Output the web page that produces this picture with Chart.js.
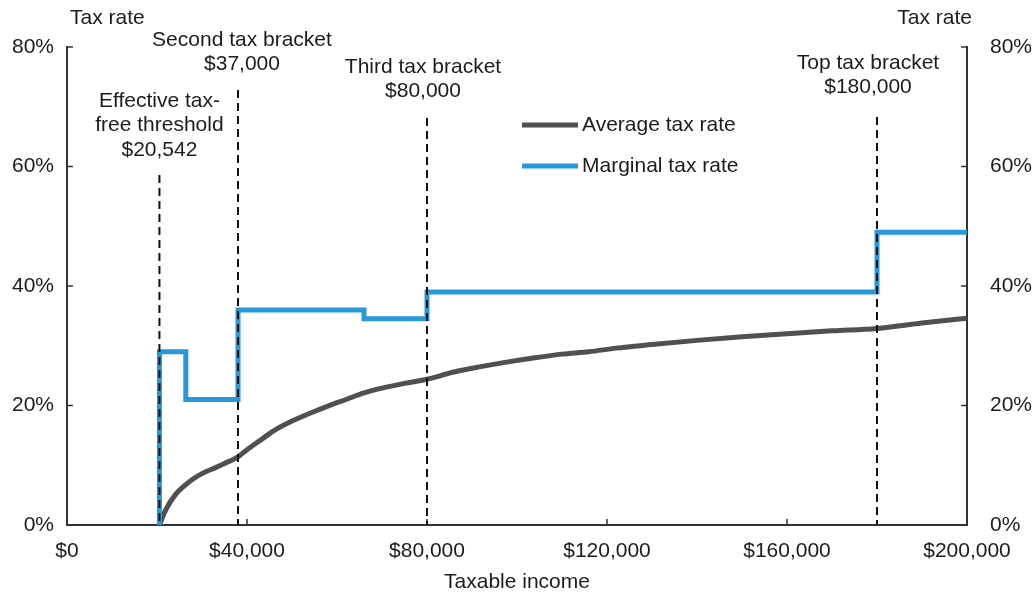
<!DOCTYPE html>
<html>
<head>
<meta charset="utf-8">
<script src="https://cdn.jsdelivr.net/npm/chart.js@4.4.1/dist/chart.umd.min.js"></script>
<style>
  html, body { margin: 0; padding: 0; background: #fff; }
  #wrap { width: 1035px; height: 597px; }
</style>
</head>
<body>
<div id="wrap"><canvas id="myChart" width="1035" height="597"></canvas></div>
<script>
// values
const income_ticks = [0, 40000, 80000, 120000, 160000, 200000];
const rate_ticks = [0, 20, 40, 60, 80];

// marginal rate: each point holds until the next income
const marginal_income = [20542, 20542, 26400, 38000, 66000, 80000, 180000, 200000];
const marginal_rate   = [0, 29, 21, 36, 34.5, 39, 49, 49];

const average_income = [20542, 22000, 24000, 26000, 28000, 30000, 33000, 35000, 38000, 40000,
                        43000, 46000, 50000, 54000, 58000, 62000, 66000, 70000, 75000, 80000,
                        86000, 92000, 98000, 104000, 110000, 116000, 122000, 130000, 140000, 150000,
                        160000, 170000, 180000, 190000, 200000];
const average_rate   = [0, 2.6, 5.0, 6.5, 7.7, 8.6, 9.6, 10.3, 11.4, 12.6,
                        14.2, 15.8, 17.4, 18.7, 19.9, 21.0, 22.1, 22.9, 23.7, 24.4,
                        25.6, 26.5, 27.3, 28.0, 28.6, 29.0, 29.6, 30.2, 30.9, 31.5,
                        32.0, 32.5, 32.9, 33.8, 34.6];

const bracket_income = [20542, 38000, 80000, 180000];
const bracket_text = [
    ['Effective tax-', 'free threshold', '$20,542'],
    ['Second tax bracket', '$37,000'],
    ['Third tax bracket', '$80,000'],
    ['Top tax bracket', '$180,000'],
];

// where the bracket notes sit (pixels)
const bracket_layout = [
    {dx: 0,  top: 101, lineTop: 175},
    {dx: 4,  top: 40,  lineTop: 90},
    {dx: -4, top: 67,  lineTop: 118},
    {dx: -9, top: 63,  lineTop: 117},
];

const BLUE = '#2898d8';
const GREY = '#505050';
const INK = '#1c1c1c';
const FONT = '"Liberation Sans", Arial, sans-serif';

Chart.defaults.font.family = FONT;
Chart.defaults.font.size = 21;
Chart.defaults.color = INK;

const toXY = (xs, ys) => xs.map((x, i) => ({x: x, y: ys[i]}));

const decor = {
    id: 'decor',
    afterDatasetsDraw(chart) {
        const ctx = chart.ctx;
        const a = chart.chartArea;
        const x = chart.scales.x;
        const y = chart.scales.y;
        ctx.save();

        // inward tick marks
        ctx.strokeStyle = '#333';
        ctx.lineWidth = 1.5;
        ctx.beginPath();
        rate_ticks.forEach(v => {
            const py = y.getPixelForValue(v);
            ctx.moveTo(a.left, py); ctx.lineTo(a.left + 6, py);
            ctx.moveTo(a.right, py); ctx.lineTo(a.right - 6, py);
        });
        income_ticks.slice(1, -1).forEach(v => {
            const px = x.getPixelForValue(v);
            ctx.moveTo(px, a.bottom); ctx.lineTo(px, a.bottom - 6);
        });
        ctx.stroke();

        // dashed bracket lines
        ctx.strokeStyle = '#111';
        ctx.lineWidth = 2;
        ctx.setLineDash([8, 5]);
        bracket_income.forEach((v, i) => {
            const px = x.getPixelForValue(v);
            ctx.beginPath();
            ctx.moveTo(px, bracket_layout[i].lineTop);
            ctx.lineTo(px, a.bottom);
            ctx.stroke();
        });
        ctx.setLineDash([]);

        // bracket notes
        ctx.fillStyle = INK;
        ctx.font = '21px ' + FONT;
        ctx.textAlign = 'center';
        ctx.textBaseline = 'middle';
        bracket_text.forEach((lines, i) => {
            const px = x.getPixelForValue(bracket_income[i]) + bracket_layout[i].dx;
            lines.forEach((t, j) => ctx.fillText(t, px, bracket_layout[i].top + j * 24.5));
        });

        // axis titles on top
        ctx.textAlign = 'left';
        ctx.fillText('Tax rate', a.left + 3, 18);
        ctx.textAlign = 'right';
        ctx.fillText('Tax rate', a.right + 5, 18);

        // legend
        const legend = [['Average tax rate', GREY, 125], ['Marginal tax rate', BLUE, 166]];
        ctx.textAlign = 'left';
        legend.forEach(l => {
            ctx.strokeStyle = l[1];
            ctx.lineWidth = 5;
            ctx.beginPath();
            ctx.moveTo(522, l[2]);
            ctx.lineTo(578, l[2]);
            ctx.stroke();
            ctx.fillStyle = INK;
            ctx.fillText(l[0], 582, l[2]);
        });
        ctx.restore();
    }
};

const rateScale = (position, width, pad) => ({
    type: 'linear',
    position: position,
    min: 0,
    max: 80,
    afterBuildTicks: s => { s.ticks = rate_ticks.map(v => ({value: v})); },
    afterFit: s => { s.width = width; },
    ticks: { padding: pad, callback: v => v + '%' },
    grid: { drawOnChartArea: false, drawTicks: false },
    border: { display: true, color: '#333', width: 2 },
});

const config = {
    type: 'line',
    data: {
        datasets: [{
            label: 'Marginal tax rate',
            data: toXY(marginal_income, marginal_rate),
            borderColor: BLUE,
            borderWidth: 5,
            stepped: 'before',
            borderJoinStyle: 'miter',
            pointRadius: 0,
            fill: false,
        }, {
            label: 'Average tax rate',
            data: toXY(average_income, average_rate),
            borderColor: GREY,
            borderWidth: 5,
            cubicInterpolationMode: 'monotone',
            pointRadius: 0,
            fill: false,
        }]
    },
    options: {
        responsive: false,
        animation: false,
        layout: { padding: { top: 47, left: 0, right: 0, bottom: 0 } },
        plugins: { legend: { display: false }, tooltip: { enabled: false } },
        scales: {
            x: {
                type: 'linear',
                min: 0,
                max: 200000,
                afterBuildTicks: s => { s.ticks = income_ticks.map(v => ({value: v})); },
                afterFit: s => { s.height = 72; },
                ticks: { padding: 14, maxRotation: 0, callback: v => '$' + v.toLocaleString('en-US') },
                grid: { drawOnChartArea: false, drawTicks: false },
                border: { display: true, color: '#333', width: 2 },
                title: { display: true, text: 'Taxable income', padding: { top: 0, bottom: 2 } },
            },
            y: rateScale('left', 67, 13),
            y2: rateScale('right', 68, 23),
        }
    },
    plugins: [decor]
};

const myChart = new Chart(document.getElementById('myChart'), config);
</script>
</body>
</html>
